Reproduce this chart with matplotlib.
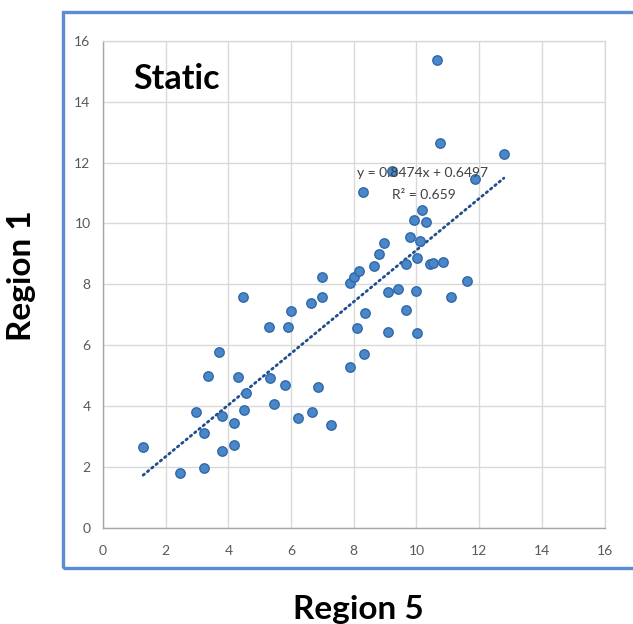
import matplotlib
matplotlib.use("Agg")
import matplotlib.pyplot as plt
from matplotlib.patches import Rectangle
import numpy as np

plt.rcParams['font.family'] = ['Lato', 'DejaVu Sans']

# Region 5 (x) vs Region 1 (y) values
region5 = [6.98, 7.87, 8.01, 8.16, 4.47, 6.63, 7.00, 6.00, 5.29, 5.89,
           8.11, 3.71, 3.35, 4.31, 7.87, 5.34, 5.81, 4.56, 6.86, 5.46,
           2.96, 3.79, 4.50, 4.18, 6.21, 6.66, 7.26, 3.21, 1.28, 3.79,
           4.18, 2.45, 3.21, 10.65, 10.76, 12.79, 9.22, 11.88, 8.29, 10.19,
           9.93, 10.30, 9.81, 10.10, 8.95, 8.82, 10.03, 8.66, 9.68, 10.44,
           10.54, 10.86, 9.10, 9.42, 10.00, 11.60, 11.09, 9.67, 8.36, 9.10,
           10.03, 8.34]
region1 = [8.25, 8.03, 8.24, 8.44, 7.59, 7.38, 7.59, 7.13, 6.59, 6.59,
           6.57, 5.78, 4.99, 4.97, 5.27, 4.91, 4.69, 4.44, 4.64, 4.07,
           3.82, 3.69, 3.87, 3.45, 3.61, 3.82, 3.37, 3.13, 2.67, 2.54,
           2.72, 1.80, 1.96, 15.36, 12.63, 12.27, 11.71, 11.46, 11.04, 10.45,
           10.11, 10.04, 9.54, 9.41, 9.36, 9.00, 8.86, 8.61, 8.66, 8.67,
           8.69, 8.73, 7.76, 7.84, 7.78, 8.11, 7.59, 7.16, 7.06, 6.45,
           6.40, 5.70]

# Trendline shown on the chart
slope = 0.8474
intercept = 0.6497
r2 = 0.659

ticks = [0, 2, 4, 6, 8, 10, 12, 14, 16]

fig = plt.figure(figsize=(6.33, 6.24), dpi=100)
ax = fig.add_axes([103/633, 1-528/624, 501.5/633, 487.3/624])

ax.set_xlim(0, 16)
ax.set_ylim(0, 16)
ax.set_xticks(ticks)
ax.set_yticks(ticks)
ax.grid(True, color='#D9D9D9', linewidth=1.0)
ax.set_axisbelow(True)
for s in ['top', 'right']:
    ax.spines[s].set_color('#D9D9D9')
    ax.spines[s].set_linewidth(1.0)
for s in ['left', 'bottom']:
    ax.spines[s].set_color('#A6A6A6')
    ax.spines[s].set_linewidth(1.0)
ax.tick_params(length=0, labelsize=10, labelcolor='#595959')
ax.tick_params(axis='y', pad=9)
ax.tick_params(axis='x', pad=12)

xs = np.array(region5)
xl = np.array([xs.min(), xs.max()])
ax.plot(xl, slope * xl + intercept, color='#1F4E8C', linewidth=2.0,
        linestyle=(0, (0.6, 1.4)), dash_capstyle='round', zorder=2)

ax.scatter(region5, region1, s=46, facecolor='#4A86C8', edgecolor='#2F69A8',
           linewidth=1.0, zorder=3)

ax.text(10.2, 11.65, f'y = {slope}x + {intercept}', fontsize=10, color='#404040',
        ha='center', va='center', zorder=4)
ax.text(10.25, 10.95, f'R² = {r2}', fontsize=10, color='#404040',
        ha='center', va='center', zorder=4)

ax.text(0.06, 0.901, 'Static', transform=ax.transAxes, fontsize=24.5,
        fontweight='bold', color='black', ha='left', va='baseline')

fig.text(358.8/633, 1-619/624, 'Region 5', fontsize=24, fontweight='bold',
         ha='center', va='baseline')
fig.text(22/633, 1-276/624, 'Region 1', fontsize=24, fontweight='bold',
         ha='center', va='center', rotation=90)

fig.patches.append(Rectangle((62.5/633, 1-567.5/624), 0.98, (567.5-11.5)/624,
                             transform=fig.transFigure, fill=False,
                             edgecolor='#5B8DD6', linewidth=2.4, zorder=0))

fig.savefig('out.png', dpi=100)
